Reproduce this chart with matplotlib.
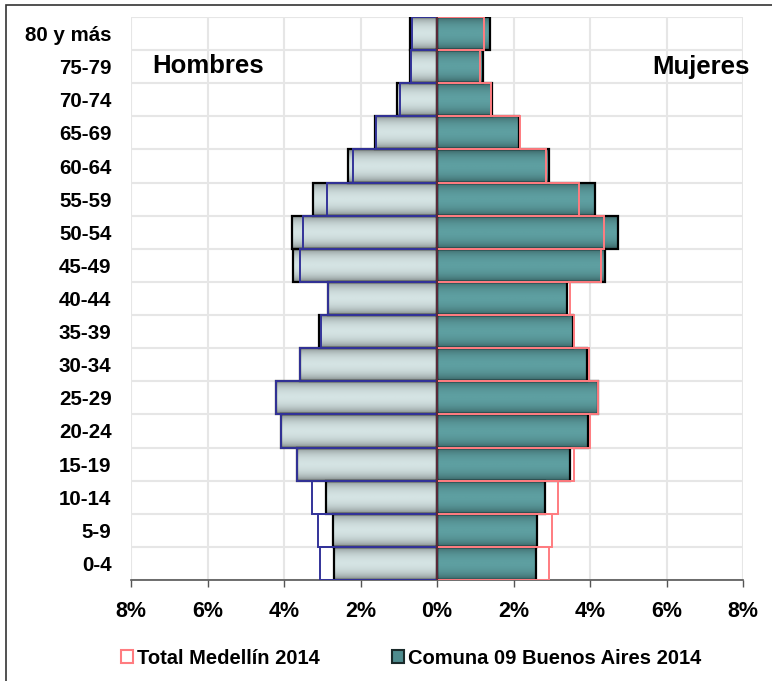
import numpy as np
import matplotlib.pyplot as plt
from matplotlib.colors import LinearSegmentedColormap
from matplotlib.patches import Rectangle
from matplotlib.ticker import FuncFormatter

plt.rcParams['font.family'] = ['Liberation Sans', 'DejaVu Sans']
plt.rcParams['font.weight'] = 'bold'

grupos = ['0-4', '5-9', '10-14', '15-19', '20-24', '25-29', '30-34', '35-39',
          '40-44', '45-49', '50-54', '55-59', '60-64', '65-69', '70-74',
          '75-79', '80 y más']
hombres_comuna = [2.70, 2.72, 2.91, 3.65, 4.08, 4.20, 3.58, 3.09, 2.86, 3.76,
                  3.80, 3.25, 2.32, 1.62, 1.04, 0.70, 0.71]
hombres_medellin = [3.05, 3.11, 3.28, 3.67, 4.09, 4.21, 3.59, 3.02, 2.85, 3.57,
                    3.50, 2.87, 2.19, 1.60, 0.97, 0.68, 0.66]
mujeres_comuna = [2.59, 2.62, 2.83, 3.48, 3.96, 4.20, 3.92, 3.56, 3.40, 4.40,
                  4.73, 4.14, 2.93, 2.15, 1.45, 1.19, 1.39]
mujeres_medellin = [2.94, 3.00, 3.16, 3.57, 4.00, 4.22, 3.98, 3.57, 3.48, 4.29,
                    4.37, 3.72, 2.85, 2.16, 1.41, 1.13, 1.24]
xticks = [-8, -6, -4, -2, 0, 2, 4, 6, 8]

y = np.arange(len(grupos))
h_com = -np.array(hombres_comuna)
h_med = -np.array(hombres_medellin)
m_com = np.array(mujeres_comuna)
m_med = np.array(mujeres_medellin)

fig = plt.figure(figsize=(7.72, 6.81), dpi=100)
ax = fig.add_axes([131 / 772, 1 - 580 / 681, 612 / 772, 563 / 681])

# banded shading like the excel bars
t = np.linspace(0, 1, 64)
prof = np.sin(np.pi * t) ** 0.45
grad = prof.reshape(-1, 1)
cmap_h = LinearSegmentedColormap.from_list('h', ['#5f6565', '#d4e3e3'])
cmap_m = LinearSegmentedColormap.from_list('m', ['#284849', '#5e9fa1'])

for yi, hv, mv in zip(y, h_com, m_com):
    ax.imshow(grad, cmap=cmap_h, extent=[hv, 0, yi - 0.5, yi + 0.5],
              aspect='auto', zorder=2, vmin=0, vmax=1)
    ax.imshow(grad, cmap=cmap_m, extent=[0, mv, yi - 0.5, yi + 0.5],
              aspect='auto', zorder=2, vmin=0, vmax=1)

ax.barh(y, h_com, height=1.0, fill=False, edgecolor='black', linewidth=1.6, zorder=3)
ax.barh(y, m_com, height=1.0, fill=False, edgecolor='black', linewidth=1.6, zorder=3)
ax.barh(y, h_med, height=1.0, fill=False, edgecolor='#333399', linewidth=1.4, zorder=4)
ax.barh(y, m_med, height=1.0, fill=False, edgecolor='#ff7c80', linewidth=1.4, zorder=4)
ax.axvline(0, color='#3a1a2a', linewidth=1.2, zorder=5)

ax.set_xlim(-8, 8)
ax.set_ylim(-0.5, len(grupos) - 0.5)
ax.set_xticks(xticks)
ax.xaxis.set_major_formatter(FuncFormatter(lambda v, p: f'{abs(v):.0f}%'))
ax.set_yticks(y)
ax.set_yticklabels(grupos)
ax.set_yticks(np.arange(len(grupos) + 1) - 0.5, minor=True)
ax.tick_params(axis='y', which='both', length=0, labelsize=14.8, pad=14)
ax.tick_params(axis='x', length=5, width=1, color='#555555', labelsize=15.5, pad=10,
               direction='out')
for lab in ax.get_xticklabels() + ax.get_yticklabels():
    lab.set_fontweight('bold')

ax.grid(axis='x', which='major', color='#e6e6e6', linewidth=1.5, zorder=0)
ax.grid(axis='y', which='minor', color='#e6e6e6', linewidth=1.5, zorder=0)
ax.set_axisbelow(True)
for s in ['top', 'left', 'right']:
    ax.spines[s].set_visible(False)
ax.spines['bottom'].set_color('#555555')
ax.spines['bottom'].set_linewidth(1.2)

fig.text(152 / 772, 1 - 66 / 681, 'Hombres', fontsize=18.5, fontweight='bold',
         ha='left', va='center')
fig.text(750 / 772, 1 - 67 / 681, 'Mujeres', fontsize=18.5, fontweight='bold',
         ha='right', va='center')

handles = [Rectangle((0, 0), 1, 1, facecolor='white', edgecolor='#ff7c80', linewidth=1.5),
           Rectangle((0, 0), 1, 1, facecolor='#4f8c8e', edgecolor='#1a2a2a', linewidth=1.5)]
fig.legend(handles, ['Total Medellín 2014', 'Comuna 09 Buenos Aires 2014'],
           loc='center', bbox_to_anchor=(411 / 772, 1 - 658 / 681), ncol=2,
           frameon=False, handlelength=0.6, handleheight=0.6, handletextpad=0.2,
           columnspacing=3.6, prop={'weight': 'bold', 'size': 14.5})

# outer chart border (left and top edges visible in the crop)
fig.add_artist(Rectangle((6 / 772, -0.1), 1.2, 1 - 5 / 681 + 0.1,
                         transform=fig.transFigure, fill=False,
                         edgecolor='#333333', linewidth=1.2))

fig.savefig('out.png', dpi=100)
